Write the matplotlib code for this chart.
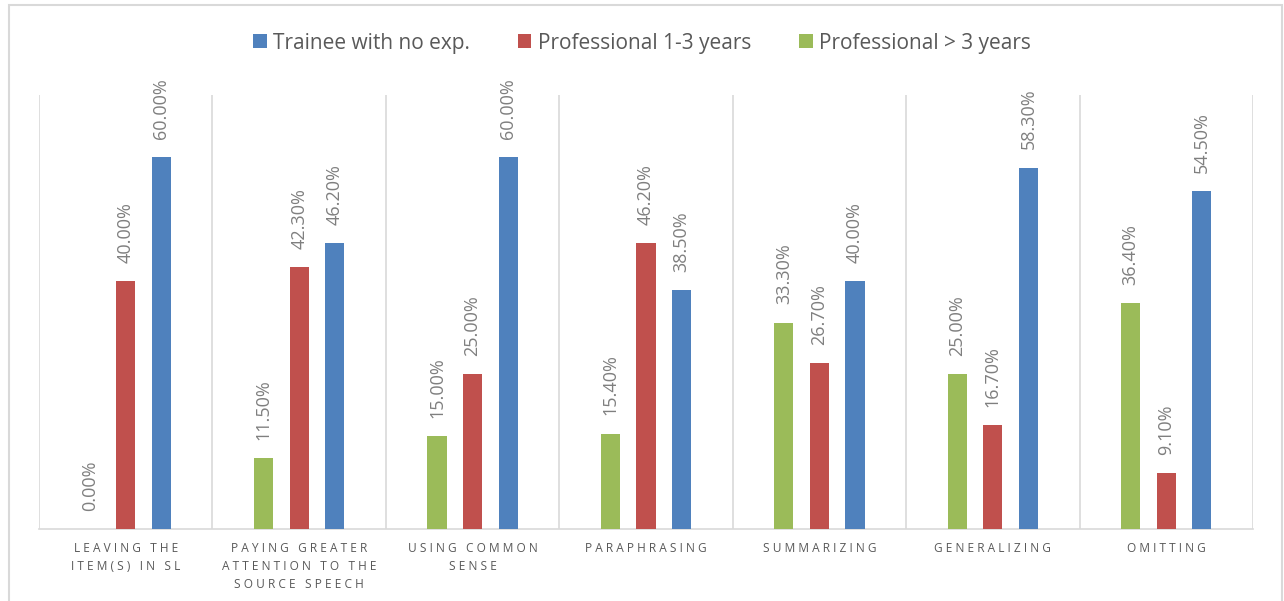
import matplotlib
matplotlib.use("Agg")
import matplotlib.pyplot as plt
import numpy as np
from matplotlib.patches import Rectangle

plt.rcParams['font.family'] = ['Open Sans', 'DejaVu Sans']

categories = ["LEAVING THE\nITEM(S) IN SL",
              "PAYING GREATER\nATTENTION TO THE\nSOURCE SPEECH",
              "USING COMMON\nSENSE",
              "PARAPHRASING",
              "SUMMARIZING",
              "GENERALIZING",
              "OMITTING"]
series_names = ["Trainee with no exp.", "Professional 1-3 years", "Professional > 3 years"]
trainee = [60.0, 46.2, 60.0, 38.5, 40.0, 58.3, 54.5]
prof_1_3 = [40.0, 42.3, 25.0, 46.2, 26.7, 16.7, 9.1]
prof_gt3 = [0.0, 11.5, 15.0, 15.4, 33.3, 25.0, 36.4]

colors = {"Trainee with no exp.": "#4F81BD",
          "Professional 1-3 years": "#C0504D",
          "Professional > 3 years": "#9BBB59"}

def spaced(s):
    out = []
    for line in s.split("\n"):
        words = line.split(" ")
        out.append("   ".join(" ".join(w) for w in words))
    return "\n".join(out)

fig = plt.figure(figsize=(12.84, 6.01), dpi=100)
ax = fig.add_axes([39/1284, 1-529/601, (1253-39)/1284, (529-95)/601])

n = len(categories)
x = np.arange(n)
w = 0.11
sp = 0.205
order = [("Professional > 3 years", prof_gt3, -sp),
         ("Professional 1-3 years", prof_1_3, 0.0),
         ("Trainee with no exp.", trainee, sp)]
handles = {}
for name, vals, off in order:
    bars = ax.bar(x + off, vals, width=w, color=colors[name], label=name, zorder=3)
    handles[name] = bars
    for xi, v in zip(x + off, vals):
        ax.annotate(f"{v:.2f}%", (xi, v), xytext=(0, 13), textcoords="offset points",
                    rotation=90, ha="center", va="bottom", fontsize=13,
                    color="#7f7f7f")

ax.set_xlim(-0.5, n - 0.5)
ax.set_ylim(0, 70)
ax.set_yticks([])
for b in np.arange(-0.5, n, 1.0):
    ax.axvline(b, color="#d9d9d9", lw=1.2, zorder=1)
for s in ["top", "left", "right"]:
    ax.spines[s].set_visible(False)
ax.spines["bottom"].set_color("#d9d9d9")
ax.spines["bottom"].set_linewidth(1.2)
ax.set_xticks(x)
ax.set_xticklabels([spaced(c) for c in categories], fontsize=8.6, color="#595959",
                   linespacing=1.55)
ax.tick_params(axis="x", length=0, pad=9)

leg = fig.legend([handles[s] for s in series_names], series_names,
                 loc="center", bbox_to_anchor=(0.5, 1-43/601), ncol=3, frameon=False,
                 fontsize=15, handlelength=0.65, handleheight=0.65, handletextpad=0.3,
                 columnspacing=2.3, labelcolor="#595959")

fig.add_artist(Rectangle((9/1284, -0.01), (1282-9)/1284, 1-5/601+0.01,
                         transform=fig.transFigure, fill=False,
                         edgecolor="#d9d9d9", lw=1.5))

fig.savefig("out.png", dpi=100)
